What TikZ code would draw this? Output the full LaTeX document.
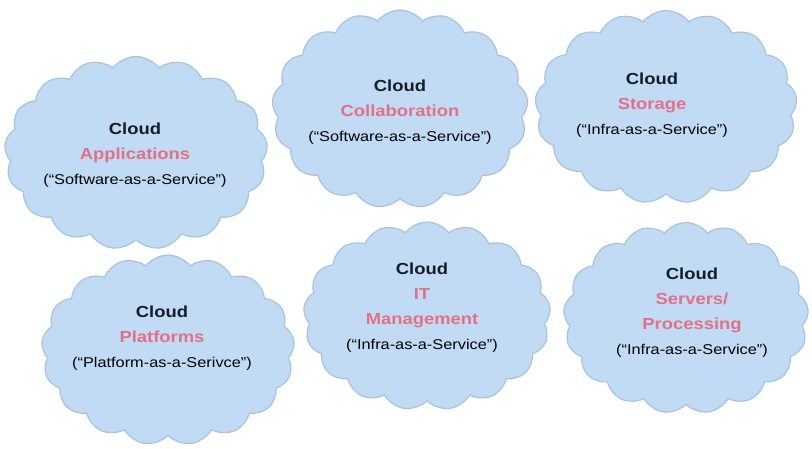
\documentclass[tikz,border=0pt]{standalone}
\usepackage{fontspec}
\setmainfont{Liberation Sans}[FakeStretch=1.15]
\usepackage{tikz}
\usetikzlibrary{shapes.symbols}
\definecolor{cloudfill}{RGB}{193,219,244}
\definecolor{cloudedge}{RGB}{168,195,222}
\definecolor{kindpink}{RGB}{226,112,134}
\definecolor{headink}{RGB}{22,28,40}
\tikzstyle{cloudy}=[cloud,cloud puffs=17,cloud puff arc=105,aspect=1.4,
  fill=cloudfill,draw=cloudedge,line width=1.2pt,inner sep=0pt]
\tikzstyle{caption}=[align=center,inner sep=0pt,
  font=\fontsize{16}{25}\selectfont]
\newcommand{\hd}[1]{{\bfseries\color{headink}#1}}
\newcommand{\kd}[1]{{\bfseries\color{kindpink}#1}}
\newcommand{\sv}[1]{{\fontsize{14.2}{25}\selectfont #1}}

\begin{document}
\begin{tikzpicture}[x=1pt,y=-1pt]
      \useasboundingbox (0,0) rectangle (812,448);

      \node[cloudy,minimum width=263pt,minimum height=193pt] (apps) at (136,153) {};
      \node[cloudy,minimum width=256pt,minimum height=198pt] (collab) at (400,109) {};
      \node[cloudy,minimum width=262pt,minimum height=193pt] (store) at (666,107) {};
      \node[cloudy,minimum width=253pt,minimum height=190pt] (plat) at (168,350) {};
      \node[cloudy,minimum width=247pt,minimum height=188pt] (itmgmt) at (427,316) {};
      \node[cloudy,minimum width=245pt,minimum height=191pt] (servers) at (686,318) {};

      \node[caption] (appsT) at (135,155)
        {\hd{Cloud}\\\kd{Applications}\\\sv{(“Software-as-a-Service”)}};
      \node[caption] (collabT) at (400,112)
        {\hd{Cloud}\\\kd{Collaboration}\\\sv{(“Software-as-a-Service”)}};
      \node[caption] (storeT) at (652,105)
        {\hd{Cloud}\\\kd{Storage}\\\sv{(“Infra-as-a-Service”)}};
      \node[caption] (platT) at (162,338)
        {\hd{Cloud}\\\kd{Platforms}\\\sv{(“Platform-as-a-Serivce”)}};
      \node[caption] (itmgmtT) at (422,308)
        {\hd{Cloud}\\\kd{IT}\\\kd{Management}\\\sv{(“Infra-as-a-Service”)}};
      \node[caption] (serversT) at (692,313)
        {\hd{Cloud}\\\kd{Servers/}\\\kd{Processing}\\\sv{(“Infra-as-a-Service”)}};

    \end{tikzpicture}
\end{document}
